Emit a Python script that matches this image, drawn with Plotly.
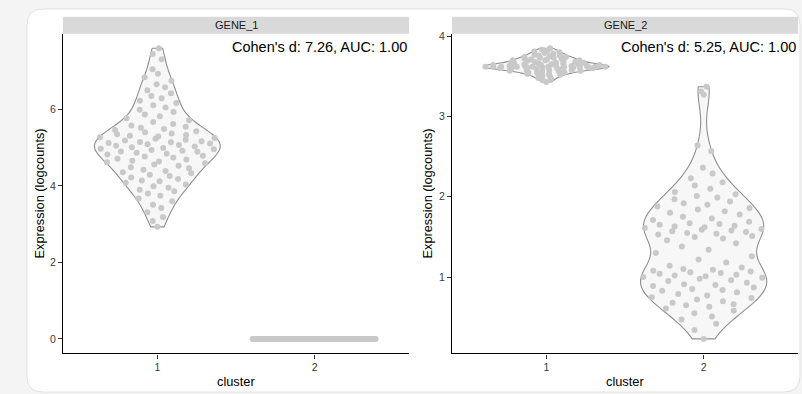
import numpy as np
import plotly.graph_objects as go

# ---- data -----------------------------------------------------------------
genes = ["GENE_1", "GENE_2"]
clusters = [1, 2]
stat_labels = ["Cohen's d: 7.26, AUC: 1.00", "Cohen's d: 5.25, AUC: 1.00"]

gene1_cluster1 = [
    2.93, 3.08,
    3.19, 3.31,
    3.42, 3.51, 3.60,
    3.67, 3.74, 3.80, 3.86,
    3.90, 3.95, 3.99, 4.04, 4.08, 4.12,
    4.14, 4.18, 4.22, 4.26, 4.29, 4.33, 4.36,
    4.39, 4.42, 4.46, 4.49, 4.53, 4.56, 4.59, 4.62,
    4.64, 4.66, 4.69, 4.71, 4.74, 4.77, 4.79, 4.82, 4.84, 4.87,
    4.89, 4.90, 4.92, 4.94, 4.96, 4.97, 4.99, 5.01, 5.03, 5.05, 5.07, 5.09,
    5.11, 5.12,
    5.14, 5.15, 5.17, 5.19, 5.21, 5.23, 5.25, 5.27, 5.29, 5.31, 5.33, 5.35,
    5.37,
    5.40, 5.43, 5.46, 5.49, 5.52, 5.55, 5.58, 5.62,
    5.67, 5.72, 5.77, 5.82, 5.87,
    5.93, 5.99, 6.05, 6.11,
    6.17, 6.23, 6.29, 6.35,
    6.42, 6.50, 6.58,
    6.66, 6.75, 6.84,
    6.93, 7.05,
    7.31,
    7.45, 7.60,
]
gene1_cluster2 = [
    0.0, 0.0, 0.0, 0.0, 0.0, 0.0, 0.0, 0.0, 0.0, 0.0,
    0.0, 0.0, 0.0, 0.0, 0.0, 0.0, 0.0, 0.0, 0.0, 0.0,
    0.0, 0.0, 0.0, 0.0, 0.0, 0.0, 0.0, 0.0, 0.0, 0.0,
    0.0, 0.0, 0.0, 0.0, 0.0, 0.0, 0.0, 0.0, 0.0, 0.0,
    0.0, 0.0, 0.0, 0.0, 0.0, 0.0, 0.0, 0.0, 0.0, 0.0,
    0.0, 0.0, 0.0, 0.0, 0.0, 0.0, 0.0, 0.0, 0.0, 0.0,
    0.0, 0.0, 0.0, 0.0, 0.0, 0.0, 0.0, 0.0, 0.0, 0.0,
    0.0, 0.0, 0.0, 0.0, 0.0, 0.0, 0.0, 0.0, 0.0, 0.0,
    0.0, 0.0, 0.0, 0.0, 0.0, 0.0, 0.0, 0.0, 0.0, 0.0,
    0.0, 0.0, 0.0, 0.0, 0.0, 0.0, 0.0, 0.0, 0.0, 0.0,
]
gene2_cluster1 = [
    3.43, 3.45,
    3.47, 3.48, 3.50, 3.51,
    3.52, 3.53, 3.53, 3.54, 3.55, 3.55,
    3.56, 3.56, 3.57, 3.57, 3.58, 3.58, 3.58,
    3.59, 3.59, 3.59, 3.60, 3.60, 3.60,
    3.61, 3.61, 3.61, 3.61, 3.61,
    3.62, 3.62, 3.62, 3.62, 3.62, 3.62, 3.62, 3.62, 3.62, 3.62,
    3.63, 3.63, 3.63, 3.63, 3.63,
    3.64, 3.64, 3.64, 3.65, 3.65, 3.65,
    3.66, 3.66, 3.66, 3.67, 3.67, 3.67,
    3.68, 3.68, 3.69, 3.69, 3.70, 3.70, 3.70, 3.71, 3.71,
    3.72, 3.72, 3.73, 3.73, 3.74, 3.74, 3.75,
    3.76, 3.76, 3.77, 3.78, 3.79,
    3.80, 3.81, 3.82, 3.83, 3.85,
]
gene2_cluster2 = [
    0.23, 0.34,
    0.42, 0.47, 0.51, 0.55, 0.58,
    0.61, 0.63, 0.65, 0.66, 0.68, 0.70, 0.72, 0.74, 0.75, 0.77, 0.79,
    0.81, 0.83, 0.84, 0.85, 0.87, 0.89, 0.90, 0.91, 0.93,
    0.95, 0.96, 0.98, 0.99, 1.00, 1.01, 1.02, 1.03, 1.04, 1.05, 1.06, 1.07,
    1.08, 1.09, 1.10, 1.12, 1.14,
    1.18, 1.22, 1.26, 1.30, 1.34, 1.38, 1.42,
    1.46, 1.48, 1.50, 1.51, 1.53, 1.54, 1.55, 1.56, 1.57, 1.58, 1.59, 1.60,
    1.61, 1.62, 1.63, 1.64, 1.65, 1.66, 1.67, 1.69, 1.71, 1.73, 1.75, 1.78,
    1.80, 1.82, 1.84, 1.86, 1.88, 1.90, 1.92, 1.94, 1.97, 1.99,
    2.01, 2.03, 2.06, 2.10, 2.14, 2.18,
    2.23, 2.29, 2.36,
    2.57, 2.64,
    3.27, 3.31, 3.37,
]
y_ticks = [[0, 2, 4, 6], [1, 2, 3, 4]]

panels = [
    [gene1_cluster1, gene1_cluster2],
    [gene2_cluster1, gene2_cluster2],
]

# ---- canvas geometry (pixels) ----------------------------------------------
W, H = 802, 394
FONT = "Liberation Sans, Arial, sans-serif"
VIOLIN_WIDTH = 0.8          # full violin width in cluster units
POINT_WIDTH = 0.4           # half-width available to the quasirandom points


def px(x):
    return x / W


def py(y):
    return 1 - y / H


plot_top, plot_bottom = 30, 353
strip_top = 13
x_domains = [(63, 409), (452, 798)]
y_title_x = [40, 428]


def nrd0(vals):
    """Bandwidth by R's bw.nrd0 rule (with its fallbacks)."""
    a = np.asarray(vals, dtype=float)
    hi = a.std(ddof=1)
    iqr = np.subtract(*np.percentile(a, [75, 25]))
    lo = min(hi, iqr / 1.34)
    if not lo:
        lo = hi or abs(a[0]) or 1.0
    return 0.9 * lo * len(a) ** (-0.2)


def van_der_corput(n, base=2):
    seq = []
    for i in range(1, n + 1):
        q, denom, k = 0.0, 1.0, i
        while k:
            denom *= base
            k, r = divmod(k, base)
            q += r / denom
        seq.append(q)
    return np.array(seq)


def quasirandom_offsets(vals):
    """Horizontal offsets spreading points inside the kernel density."""
    a = np.asarray(vals, dtype=float)
    bw = nrd0(a)
    grid = np.linspace(a.min() - 3 * bw, a.max() + 3 * bw, 512)

    def kde(t):
        z = (t[:, None] - a[None, :]) / bw
        return np.exp(-0.5 * z ** 2).sum(axis=1)

    dens_at = kde(a) / kde(grid).max()
    rank = np.empty(len(a), dtype=int)
    rank[np.argsort(a, kind="stable")] = np.arange(len(a))
    vdc = van_der_corput(len(a))[rank]
    return (vdc - 0.5) * 2 * POINT_WIDTH * dens_at


def rounded_rect(x0, y0, x1, y1, r):
    """SVG path (paper coords) for a rectangle with rounded corners."""
    pts = [
        f"M {px(x0 + r)} {py(y0)}",
        f"L {px(x1 - r)} {py(y0)}",
        f"Q {px(x1)} {py(y0)} {px(x1)} {py(y0 + r)}",
        f"L {px(x1)} {py(y1 - r)}",
        f"Q {px(x1)} {py(y1)} {px(x1 - r)} {py(y1)}",
        f"L {px(x0 + r)} {py(y1)}",
        f"Q {px(x0)} {py(y1)} {px(x0)} {py(y1 - r)}",
        f"L {px(x0)} {py(y0 + r)}",
        f"Q {px(x0)} {py(y0)} {px(x0 + r)} {py(y0)}",
        "Z",
    ]
    return " ".join(pts)


fig = go.Figure()

shapes = [
    dict(type="path", xref="paper", yref="paper", layer="below",
         path=rounded_rect(27, 5, 800, 392, 16),
         fillcolor="#ffffff", line=dict(color="#dde2e6", width=1)),
]
annotations = []

for p, (gene, groups) in enumerate(zip(genes, panels)):
    xa = "x" if p == 0 else "x2"
    ya = "y" if p == 0 else "y2"
    for c, vals in zip(clusters, groups):
        arr = np.asarray(vals, dtype=float)
        constant = arr.min() == arr.max()
        fig.add_trace(go.Violin(
            y=vals, x0=c, xaxis=xa, yaxis=ya,
            width=VIOLIN_WIDTH, scalemode="width", spanmode="hard",
            bandwidth=None if constant else nrd0(vals),
            fillcolor="#f7f7f7",
            line=dict(color="#8f8f8f", width=1.1),
            points=False, box_visible=False, meanline_visible=False,
            showlegend=False, hoverinfo="skip",
        ))
        fig.add_trace(go.Scatter(
            x=c + quasirandom_offsets(vals), y=vals,
            xaxis=xa, yaxis=ya, mode="markers",
            marker=dict(color="#c9c9c9", size=6, line=dict(width=0)),
            showlegend=False, hoverinfo="y",
        ))

    all_vals = np.concatenate([np.asarray(g, dtype=float) for g in groups])
    vmin, vmax = all_vals.min(), all_vals.max()
    pad = 0.05 * (vmax - vmin)

    axis_common = dict(
        showline=True, linecolor="#000000", linewidth=1.3,
        ticks="outside", ticklen=4, tickwidth=1, tickcolor="#333333",
        showgrid=False, zeroline=False,
        tickfont=dict(family=FONT, size=10.5, color="#3a3a3a"),
    )
    xd = x_domains[p]
    fig.update_layout(**{
        ("xaxis" if p == 0 else "xaxis2"): dict(
            axis_common, domain=[px(xd[0]), px(xd[1])],
            range=[0.4, 2.6], tickvals=clusters,
            ticktext=[str(c) for c in clusters],
            anchor=ya, fixedrange=True,
        ),
        ("yaxis" if p == 0 else "yaxis2"): dict(
            axis_common, domain=[py(plot_bottom), py(plot_top)],
            range=[vmin - pad, vmax + pad], tickvals=y_ticks[p],
            anchor=xa, fixedrange=True,
        ),
    })

    # facet strip
    shapes.append(dict(
        type="rect", xref=f"{xa} domain", yref="paper",
        x0=0, x1=1, y0=py(plot_top), y1=py(strip_top),
        fillcolor="#d9d9d9", line=dict(width=0), layer="below",
    ))
    annotations.append(dict(
        xref=f"{xa} domain", yref="paper", x=0.5,
        y=(py(plot_top) + py(strip_top)) / 2,
        text=gene, showarrow=False, xanchor="center", yanchor="middle",
        font=dict(family=FONT, size=11, color="#1a1a1a"),
    ))
    # effect-size label
    annotations.append(dict(
        xref=f"{xa} domain", yref="paper", x=1, y=py(43),
        text=stat_labels[p], showarrow=False, xanchor="right",
        yanchor="middle",
        font=dict(family=FONT, size=14.5, color="#000000"),
    ))
    # axis titles
    annotations.append(dict(
        xref="paper", yref="paper", x=px(y_title_x[p]),
        y=py((plot_top + plot_bottom) / 2),
        text="Expression (logcounts)", textangle=-90, showarrow=False,
        xanchor="center", yanchor="middle",
        font=dict(family=FONT, size=12.8, color="#000000"),
    ))
    annotations.append(dict(
        xref="paper", yref="paper", x=px((xd[0] + xd[1]) / 2), y=py(381),
        text="cluster", showarrow=False, xanchor="center", yanchor="middle",
        font=dict(family=FONT, size=12.8, color="#000000"),
    ))

fig.update_layout(
    width=W, height=H,
    margin=dict(l=0, r=0, t=0, b=0),
    paper_bgcolor="#f4f4f4", plot_bgcolor="rgba(0,0,0,0)",
    shapes=shapes, annotations=annotations,
    showlegend=False,
)

fig.write_html("out.html")
